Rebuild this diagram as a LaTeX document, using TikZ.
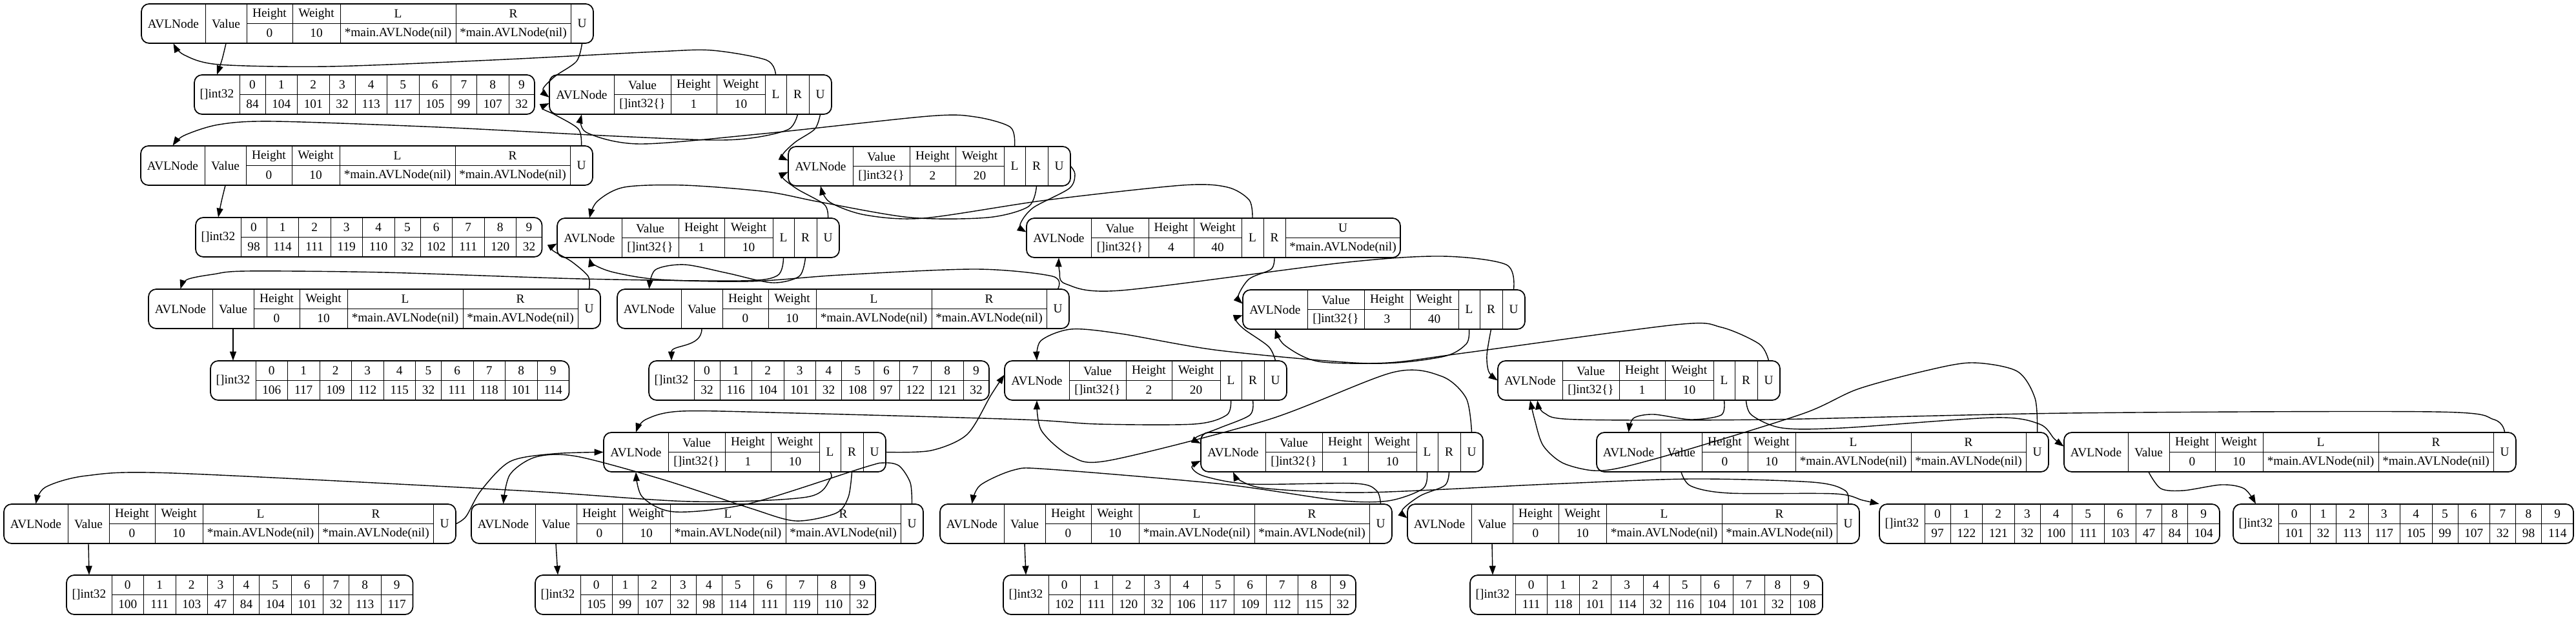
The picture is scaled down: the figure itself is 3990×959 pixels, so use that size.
\documentclass[tikz,border=0pt]{standalone}
\usepackage{fontspec}
\setmainfont{Liberation Serif}
\usetikzlibrary{arrows.meta}
\tikzset{
    rec/.style={draw, line width=1pt, rounded corners=0.24cm},
    div/.style={draw, line width=0.55pt},
    mid/.style={draw, line width=1pt},
    txt/.style={inner sep=0pt, font=\fontsize{11}{12}\selectfont},
    port/.style={txt, minimum height=1.22cm},
    edge/.style={line width=0.8pt, -{Triangle[length=0.28cm, width=0.2cm]}}
}
% leaf record: name, x, y
\newcommand{\leafrec}[3]{%
  \begin{scope}[shift={(#2,#3)}]
    \draw[rec] (0,0) rectangle (700,61);
    \draw[div] (99,0) -- (99,61) (163,0) -- (163,61) (234,0) -- (234,61)
               (308,0) -- (308,61) (487,0) -- (487,61) (665,0) -- (665,61);
    \draw[mid] (163,30.5) -- (665,30.5);
    \node[port, minimum width=99*0.02cm] (#1) at (49.5,30.5) {AVLNode};
    \node[port, minimum width=64*0.02cm] (#1-V) at (131,30.5) {Value};
    \node[txt] (#1-h) at (198.5,15.5) {Height};
    \node[txt] (#1-hv) at (198.5,45.5) {0};
    \node[txt] (#1-w) at (271,15.5) {Weight};
    \node[txt] (#1-wv) at (271,45.5) {10};
    \node[txt] (#1-l) at (397.5,15.5) {L};
    \node[txt] (#1-lv) at (397.5,45.5) {*main.AVLNode(nil)};
    \node[txt] (#1-r) at (576,15.5) {R};
    \node[txt] (#1-rv) at (576,45.5) {*main.AVLNode(nil)};
    \node[port, minimum width=35*0.02cm] (#1-U) at (682.5,30.5) {U};
  \end{scope}}
% inner record: name, x, y, height, weight
\newcommand{\innerrec}[5]{%
  \begin{scope}[shift={(#2,#3)}]
    \draw[rec] (0,0) rectangle (437,61);
    \draw[div] (100,0) -- (100,61) (188,0) -- (188,61) (259,0) -- (259,61)
               (334,0) -- (334,61) (367,0) -- (367,61) (402,0) -- (402,61);
    \draw[mid] (100,30.5) -- (334,30.5);
    \node[port, minimum width=100*0.02cm] (#1) at (50,30.5) {AVLNode};
    \node[txt] (#1-v) at (144,15.5) {Value};
    \node[txt] (#1-vv) at (144,45.5) {[]int32\{\}};
    \node[txt] (#1-h) at (223.5,15.5) {Height};
    \node[txt] (#1-hv) at (223.5,45.5) {#4};
    \node[txt] (#1-w) at (296.5,15.5) {Weight};
    \node[txt] (#1-wv) at (296.5,45.5) {#5};
    \node[port, minimum width=33*0.02cm] (#1-L) at (350.5,30.5) {L};
    \node[port, minimum width=35*0.02cm] (#1-R) at (384.5,30.5) {R};
    \node[port, minimum width=35*0.02cm] (#1-U) at (419.5,30.5) {U};
  \end{scope}}
% array record: name, x, y, values
\newcommand{\arrayrec}[4]{%
  \begin{scope}[shift={(#2,#3)}]
    \gdef\cellx{70}
    \foreach \v [count=\i from 0] in {#4} {
      \pgfmathsetmacro\cellw{\v>99 ? 49.5 : 40}
      \pgfmathsetmacro\cellr{\cellx+\cellw}
      \draw[div] (\cellx,0) -- (\cellx,61);
      \node[txt] (#1-k\i) at ({\cellx+\cellw/2},15.5) {\i};
      \node[txt] (#1-v\i) at ({\cellx+\cellw/2},45.5) {\v};
      \xdef\cellx{\cellr}
    }
    \draw[mid] (70,30.5) -- (\cellx,30.5);
    \draw[rec] (0,0) rectangle (\cellx,61);
    \node[port, minimum width=70*0.02cm] (#1) at (35,30.5) {[]int32};
  \end{scope}}

\begin{document}
\begin{tikzpicture}[x=0.02cm, y=-0.02cm]
    \useasboundingbox (0,0) rectangle (3990,959);

    % Leaves
    \leafrec{l1}{219}{6}
    \leafrec{l2}{218}{226}
    \leafrec{l3}{230}{448}
    \leafrec{l4}{956}{448}
    \leafrec{l5}{6}{781}
    \leafrec{l6}{730}{781}
    \leafrec{l7}{1456}{781}
    \leafrec{l8}{2180}{781}
    \leafrec{l9}{2473}{670}
    \leafrec{l10}{3197}{670}

    % Inner nodes
    \innerrec{n1}{851}{116}{1}{10}
    \innerrec{n2}{863}{338}{1}{10}
    \innerrec{n3}{1221}{227}{2}{20}
    \innerrec{n5}{1925}{449}{3}{40}
    \innerrec{n6}{1556}{559}{2}{20}
    \innerrec{n7}{2320}{559}{1}{10}
    \innerrec{n8}{935}{670}{1}{10}
    \innerrec{n9}{1860}{670}{1}{10}

    % Root
    \begin{scope}[shift={(1590,338)}]
      \draw[rec] (0,0) rectangle (579,61);
      \draw[div] (100,0) -- (100,61) (189,0) -- (189,61) (259,0) -- (259,61)
                 (333,0) -- (333,61) (367,0) -- (367,61) (401,0) -- (401,61);
      \draw[mid] (100,30.5) -- (333,30.5) (401,30.5) -- (579,30.5);
      \node[port, minimum width=100*0.02cm] (n4) at (50,30.5) {AVLNode};
      \node[txt] (n4-v) at (144.5,15.5) {Value};
      \node[txt] (n4-vv) at (144.5,45.5) {[]int32\{\}};
      \node[txt] (n4-h) at (224,15.5) {Height};
      \node[txt] (n4-hv) at (224,45.5) {4};
      \node[txt] (n4-w) at (296,15.5) {Weight};
      \node[txt] (n4-wv) at (296,45.5) {40};
      \node[port, minimum width=34*0.02cm] (n4-L) at (350,30.5) {L};
      \node[port, minimum width=34*0.02cm] (n4-R) at (384,30.5) {R};
      \node[txt] (n4-u) at (490,15.5) {U};
      \node[txt] (n4-uv) at (490,45.5) {*main.AVLNode(nil)};
    \end{scope}

    % Arrays
    \arrayrec{a1}{301}{116}{84,104,101,32,113,117,105,99,107,32}
    \arrayrec{a2}{303}{337}{98,114,111,119,110,32,102,111,120,32}
    \arrayrec{a3}{326}{559}{106,117,109,112,115,32,111,118,101,114}
    \arrayrec{a4}{1005}{559}{32,116,104,101,32,108,97,122,121,32}
    \arrayrec{a5}{103}{891}{100,111,103,47,84,104,101,32,113,117}
    \arrayrec{a6}{829}{891}{105,99,107,32,98,114,111,119,110,32}
    \arrayrec{a7}{1554}{891}{102,111,120,32,106,117,109,112,115,32}
    \arrayrec{a8}{2277}{891}{111,118,101,114,32,116,104,101,32,108}
    \arrayrec{a9}{2911}{781}{97,122,121,32,100,111,103,47,84,104}
    \arrayrec{a10}{3459}{781}{101,32,113,117,105,99,107,32,98,114}

    % Value links
    \draw[edge] plot[smooth] coordinates {(l1-V.south) (344,92) (a1.north)};
    \draw[edge] plot[smooth] coordinates {(l2-V.south) (343,312) (a2.north)};
    \draw[edge] (l3-V.south) -- (a3.north);
    \draw[edge] (l4-V.south) .. controls +(0,30) and +(0,-25) .. (a4.north);
    \draw[edge] (l5-V.south) -- (a5.north);
    \draw[edge] (l6-V.south) -- (a6.north);
    \draw[edge] (l7-V.south) -- (a7.north);
    \draw[edge] (l8-V.south) -- (a8.north);
    \draw[edge] plot[smooth] coordinates {(l9-V.south) (2619,753) (2678,764) (2842,765) (2885,775) (a9.north west)};
    \draw[edge] plot[smooth] coordinates {(l10-V.south) (3347,757) (3382,760) (3441,751) (3476,757) (a10.north)};

    % Up links of leaves
    \draw[edge] plot[smooth] coordinates {(l1-U.south) (893,95) (860,118) (841,138) (n1.185)};
    \draw[edge] plot[smooth] coordinates {(l2-U.north) (896,200) (860,178) (840,168) (n1.195)};
    \draw[edge] plot[smooth] coordinates {(l3-U.north) (911,428) (885,405) (855,387) (n2.190)};
    \draw[edge] plot[smooth] coordinates {(l4-U.north) (1630,428) (1512,417) (1302,426) (1161,436) (1021,433) (951,422) (920,410) (n2.south)};
    \draw[edge] plot[smooth] coordinates {(l5-U.east) (722,800) (745,760) (790,715) (857,703) (n8.west)};
    \draw[edge] plot[smooth] coordinates {(l6-U.north) (1410,748) (1393,722) (1370,717) (1339,724) (1161,780) (1045,793) (995,770) (n8.south)};
    \draw[edge] plot[smooth] coordinates {(l7-U.north) (2132,760) (2098,749) (1937,750) (1866,738) (1846,724) (n9.195)};
    \draw[edge] plot[smooth] coordinates {(l8-U.north) (2858,760) (2807,747) (2619,742) (2400,750) (2116,763) (1964,757) (1922,745) (n9.south)};
    \draw[edge] plot[smooth] coordinates {(l9-U.north) (3152,617) (3124,575) (3054,562) (2980,575) (2877,603) (2795,640) (2619,695) (2513,724) (2467,729) (2420,717) (2390,690) (2377,650) (n7.south)};
    \draw[edge] plot[smooth] coordinates {(l10-U.north) (3863,650) (3770,638) (3206,640) (2737,650) (2443,650) (2392,640) (n7.-70)};

    % Links of inner nodes
    \draw[edge] plot[smooth] coordinates {(n1-L.north) (1187,93) (1103,78) (1018,80) (763,93) (509,103) (339,100) (285,85) (l1.south)};
    \draw[edge] plot[smooth] coordinates {(n1-R.south) (1222,200) (1170,213) (1103,217) (933,210) (679,197) (424,188) (339,193) (285,210) (l2.north)};
    \draw[edge] plot[smooth] coordinates {(n1-U.south) (1262,200) (1232,220) (1212,240) (n3.170)};
    \draw[edge] plot[smooth] coordinates {(n2-U.north) (1277,317) (1235,293) (1212,275) (n3.190)};
    \draw[edge] plot[smooth] coordinates {(n2-L.south) (1204,427) (1145,435) (900,432) (594,422) (382,420) (330,425) (290,433) (l3.north)};
    \draw[edge] plot[smooth] coordinates {(n2-R.south) (1238,428) (1196,438) (1126,423) (1060,410) (1015,418) (l4.north)};
    \draw[edge] plot[smooth] coordinates {(n3-L.north) (1565,197) (1510,181) (1438,180) (1183,207) (991,223) (908,205) (n1.south)};
    \draw[edge] plot[smooth] coordinates {(n3-R.south) (1593,320) (1530,337) (1410,337) (1270,313) (1187,297) (1060,287) (967,290) (925,312) (n2.north)};
    \draw[edge] plot[smooth] coordinates {(n3-U.east) (1665,270) (1656,292) (1600,322) (1580,348) (n4.170)};
    \draw[edge] plot[smooth] coordinates {(n4-L.north) (1935,310) (1901,290) (1831,287) (1621,310) (1431,338) (1340,333) (1285,313) (n3.south)};
    \draw[edge] plot[smooth] coordinates {(n4-R.south) (1969,417) (1935,432) (1918,458) (n5.170)};
    \draw[edge] plot[smooth] coordinates {(n5-U.north) (2333,410) (2233,397) (2080,407) (1736,450) (1651,440) (1641,420) (n4.south)};
    \draw[edge] plot[smooth] coordinates {(n5-L.south) (2271,533) (2233,553) (2118,563) (1889,543) (1736,517) (1659,510) (1612,528) (n6.north)};
    \draw[edge] plot[smooth] coordinates {(n5-R.south) (2303,550) (2306,576) (n7.west)};
    \draw[edge] plot[smooth] coordinates {(n6-U.north) (1965,537) (1927,510) (1914,495) (n5.190)};
    \draw[edge] plot[smooth] coordinates {(n6-L.south) (1900,643) (1850,657) (1700,657) (1583,650) (1231,640) (1056,637) (1000,650) (n8.north)};
    \draw[edge] plot[smooth] coordinates {(n6-R.south) (1936,643) (1889,663) (1852,678) (n9.165)};
    \draw[edge] plot[smooth] coordinates {(n7-U.north) (2725,533) (2666,507) (2596,503) (2267,547) (2150,562) (2042,560) (1990,535) (n5.south)};
    \draw[edge] plot[smooth] coordinates {(n7-L.south) (2666,643) (2619,650) (2561,642) (2530,648) (l9.north)};
    \draw[edge] plot[smooth] coordinates {(n7-R.south) (2713,643) (2760,663) (2854,663) (3089,647) (3159,657) (3182,680) (l10.170)};
    \draw[edge] plot[smooth] coordinates {(n8-U.east) (1442,698) (1498,673) (1535,612) (n6.170)};
    \draw[edge] plot[smooth] coordinates {(n8-L.south) (1286,742) (1250,770) (1071,777) (804,760) (268,733) (134,737) (70,755) (l5.north)};
    \draw[edge] plot[smooth] coordinates {(n8-R.south) (1314,770) (1295,795) (1232,807) (1161,787) (1027,743) (893,707) (830,708) (790,735) (l6.north)};
    \draw[edge] plot[smooth] coordinates {(n9-L.south) (2204,757) (2150,776) (2071,775) (1893,750) (1625,727) (1571,728) (1518,752) (l7.north)};
    \draw[edge] plot[smooth] coordinates {(n9-R.south) (2238,752) (2200,768) (2172,790) (l8.170)};
    \draw[edge] plot[smooth] coordinates {(n9-U.north) (2271,617) (2233,583) (2157,577) (1965,650) (1720,713) (1659,707) (1613,667) (n6.south)};
\end{tikzpicture}
\end{document}
